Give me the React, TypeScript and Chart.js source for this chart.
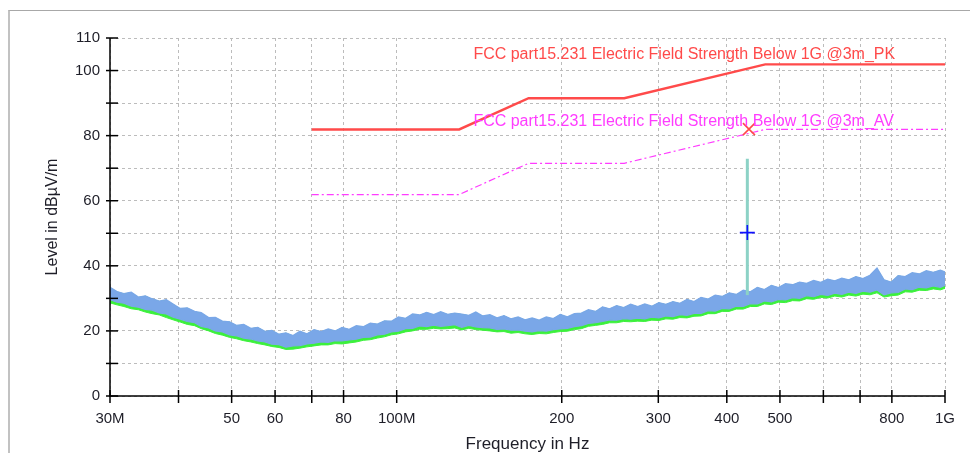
import { useEffect, useRef } from "react";
import { Chart, registerables } from "chart.js";

Chart.register(...registerables);

const W = 970;
const H = 455;
const FONT = "'Liberation Sans', Arial, Helvetica, sans-serif";
const TEXT_COLOR = "#1e1e28";
const GRID_COLOR = "#bcbcbc";
const PK_COLOR = "#ff4a4a";
const AV_COLOR = "#ff3cff";
const BLUE = "#7aa7e8";
const GREEN = "#3cf03c";
const TEAL = "#8cd2c6";

// Axes
const X_TICKS = [30, 40, 50, 60, 70, 80, 100, 200, 300, 400, 500, 600, 700, 800, 1000];
const X_TICK_LABELS = ["30M", "", "50", "60", "", "80", "100M", "200", "300", "400", "500", "", "", "800", "1G"];
const Y_TICKS = [0, 10, 20, 30, 40, 50, 60, 70, 80, 90, 100, 110];
const Y_TICK_LABELS = ["0", "", "20", "", "40", "", "60", "", "80", "", "100", "110"];

// Limit lines (MHz, dBµV/m)
const LIMIT_FREQ = [70, 130, 174, 260, 470, 1000];
const PK_LIMIT = [81.9, 81.9, 91.5, 91.5, 101.9, 101.9];
const AV_LIMIT = [61.9, 61.9, 71.5, 71.5, 81.9, 81.9];
const PK_LABEL = "FCC part15.231 Electric Field Strength Below 1G @3m_PK";
const AV_LABEL = "FCC part15.231 Electric Field Strength Below 1G @3m_AV";
const LABEL_FREQ = 138;
const PK_LABEL_LEVEL = 103.4;
const AV_LABEL_LEVEL = 83.0;

// Signal and markers
const SPIKE_FREQ = [436, 436];
const SPIKE_LEVEL = [31, 72.9];
const PEAK_MARK_FREQ = [439];
const PEAK_MARK_LEVEL = [82.0];
const AVG_MARK_FREQ = [436];
const AVG_MARK_LEVEL = [50.2];

// Noise floor: [freq MHz, blue low, blue high, green low]
const NOISE: [number, number, number, number][] = [
  [30, 29.6, 33.4, 28.6], [30.9, 28.8, 32.1, 28.0], [31.8, 28.5, 31.5, 27.5], [32.8, 27.6, 31.9, 26.8],
  [33.8, 27.3, 30.4, 26.5], [34.8, 26.6, 30.8, 25.8], [35.8, 26.4, 29.9, 25.3], [36.9, 25.5, 29.2, 24.9],
  [38, 25.2, 29.6, 24.1], [39.1, 24.2, 28.3, 23.4], [40.3, 23.6, 26.9, 22.7], [41.5, 22.9, 27.1, 22.0],
  [42.8, 22.5, 26.0, 21.6], [44, 21.4, 25.6, 20.7], [45.4, 20.9, 24.1, 20.0], [46.7, 20.0, 24.2, 19.2],
  [48.1, 19.7, 23.0, 18.7], [49.6, 18.8, 22.8, 18.0], [51, 18.5, 21.7, 17.6], [52.6, 17.8, 22.0, 17.0],
  [54.2, 17.5, 20.8, 16.6], [55.8, 16.9, 21.1, 16.1], [57.5, 16.6, 19.9, 15.7], [59.2, 15.9, 20.2, 15.2],
  [61, 15.8, 19.0, 14.9], [62.8, 15.0, 19.4, 14.3], [64.7, 15.4, 18.6, 14.4], [66.6, 15.5, 19.9, 14.7],
  [68.6, 16.0, 19.1, 15.1], [70.7, 16.2, 20.4, 15.4], [72.8, 16.6, 19.8, 15.7], [75, 16.5, 20.6, 15.7],
  [77.2, 17.0, 20.0, 16.1], [79.5, 16.9, 21.1, 16.0], [81.9, 17.2, 20.5, 16.3], [84.4, 17.5, 21.6, 16.6],
  [86.9, 18.0, 21.3, 17.1], [89.5, 18.1, 22.4, 17.3], [92.2, 18.8, 22.1, 17.8], [95, 19.0, 23.1, 18.2],
  [97.8, 19.7, 23.0, 18.8], [100.7, 19.9, 24.3, 19.1], [103.8, 20.7, 23.9, 19.7], [106.9, 20.8, 25.2, 20.0],
  [110.1, 21.5, 24.9, 20.5], [113.4, 21.3, 25.7, 20.5], [116.8, 21.8, 25.0, 20.8], [120.3, 21.4, 25.9, 20.6],
  [123.9, 21.6, 25.1, 20.7], [127.6, 21.9, 25.5, 20.9], [131.4, 21.1, 25.2, 20.3], [135.4, 21.7, 24.8, 20.8],
  [139.4, 21.2, 25.8, 20.4], [143.6, 21.0, 24.6, 20.2], [147.9, 20.9, 25.0, 20.0], [152.4, 20.5, 24.0, 19.7],
  [156.9, 20.6, 24.7, 19.8], [161.6, 20.2, 23.7, 19.3], [166.5, 20.3, 24.3, 19.5], [171.5, 19.9, 23.4, 19.1],
  [176.6, 19.7, 24.0, 18.9], [181.9, 20.1, 23.3, 19.2], [187.4, 19.9, 24.3, 19.1], [193, 20.4, 23.8, 19.5],
  [198.8, 20.6, 25.1, 19.8], [204.8, 20.8, 24.3, 19.9], [210.9, 21.3, 25.3, 20.4], [217.2, 21.6, 25.5, 20.7],
  [223.7, 22.3, 26.5, 21.4], [230.4, 22.5, 26.0, 21.7], [237.4, 22.9, 27.4, 22.0], [244.5, 23.4, 26.8, 22.5],
  [251.8, 23.3, 27.8, 22.5], [259.4, 23.8, 27.2, 22.9], [267.1, 23.6, 28.2, 22.8], [275.2, 23.9, 27.5, 23.0],
  [283.4, 23.7, 28.3, 22.9], [291.9, 24.2, 27.6, 23.3], [300.7, 24.0, 28.7, 23.2], [309.7, 24.6, 28.2, 23.7],
  [319, 24.4, 29.0, 23.6], [328.5, 25.0, 28.5, 24.1], [338.4, 24.8, 29.7, 24.0], [348.5, 25.4, 29.0, 24.5],
  [359, 25.4, 30.3, 24.6], [369.8, 26.2, 29.8, 25.3], [380.9, 26.1, 31.0, 25.3], [392.3, 26.9, 30.6, 26.0],
  [404, 26.8, 31.7, 26.0], [416.2, 27.6, 31.2, 26.7], [428.6, 27.5, 32.5, 26.7], [441.5, 28.4, 32.0, 27.5],
  [454.8, 28.3, 33.4, 27.5], [468.4, 29.2, 32.7, 28.3], [482.4, 28.9, 34.0, 28.1], [496.9, 29.7, 33.3, 28.8],
  [511.8, 29.5, 34.5, 28.7], [527.2, 30.2, 34.2, 29.3], [543, 30.0, 35.0, 29.2], [559.3, 30.8, 34.6, 29.9],
  [576, 30.5, 35.5, 29.7], [593.3, 31.2, 34.9, 30.3], [611.1, 30.9, 35.9, 30.1], [629.5, 31.6, 35.4, 30.7],
  [648.3, 31.2, 36.2, 30.4], [667.8, 31.9, 35.7, 31.0], [687.8, 31.5, 36.7, 30.7], [708.5, 32.2, 36.1, 31.3],
  [729.7, 31.9, 37.1, 31.1], [751.6, 32.6, 39.3, 31.7], [774.2, 31.1, 35.7, 30.4], [797.4, 31.7, 35.0, 30.8],
  [821.3, 31.8, 37.0, 31.0], [846, 32.9, 36.7, 32.0], [871.3, 32.7, 37.9, 31.9], [897.5, 33.4, 37.5, 32.5],
  [924.4, 33.2, 38.5, 32.4], [952.1, 33.8, 38.0, 32.9], [980.7, 33.4, 38.7, 32.6], [1000, 34.0, 38.1, 33.1],
];

const pts = (xs: number[], ys: number[]) => xs.map((x, i) => ({ x, y: ys[i] }));

const overlayPlugin = {
  id: "emcOverlay",
  afterDraw(chart: any) {
    const { ctx, chartArea, scales } = chart;
    const xs = scales.x;
    const ys = scales.y;
    ctx.save();
    ctx.strokeStyle = "#000";
    ctx.lineWidth = 1.5;
    ctx.beginPath();
    ctx.moveTo(chartArea.left, chartArea.top);
    ctx.lineTo(chartArea.left, chartArea.bottom);
    ctx.lineTo(chartArea.right, chartArea.bottom);
    ctx.stroke();
    Y_TICKS.forEach((v) => {
      const p = ys.getPixelForValue(v);
      ctx.beginPath();
      ctx.moveTo(chartArea.left - 4, p);
      ctx.lineTo(chartArea.left + 8, p);
      ctx.stroke();
    });
    X_TICKS.forEach((v) => {
      const p = xs.getPixelForValue(v);
      ctx.beginPath();
      ctx.moveTo(p, chartArea.bottom - 6);
      ctx.lineTo(p, chartArea.bottom + 7);
      ctx.stroke();
    });
    ctx.font = `16px ${FONT}`;
    ctx.textAlign = "left";
    ctx.textBaseline = "alphabetic";
    ctx.fillStyle = PK_COLOR;
    ctx.fillText(PK_LABEL, xs.getPixelForValue(LABEL_FREQ), ys.getPixelForValue(PK_LABEL_LEVEL));
    ctx.fillStyle = AV_COLOR;
    ctx.fillText(AV_LABEL, xs.getPixelForValue(LABEL_FREQ), ys.getPixelForValue(AV_LABEL_LEVEL));
    ctx.restore();
  },
};

export default function App() {
  const ref = useRef<HTMLCanvasElement | null>(null);

  useEffect(() => {
    if (!ref.current) return;
    const freqs = NOISE.map((r) => r[0]);
    const blueLo = NOISE.map((r) => r[1]);
    const blueHi = NOISE.map((r) => r[2]);
    const greenLo = NOISE.map((r) => r[3]);
    const chart = new Chart(ref.current, {
      type: "line",
      data: {
        datasets: [
          { data: pts(LIMIT_FREQ, PK_LIMIT), borderColor: PK_COLOR, borderWidth: 2.4, pointRadius: 0, fill: false, order: 1 },
          { data: pts(LIMIT_FREQ, AV_LIMIT), borderColor: AV_COLOR, borderWidth: 1.2, borderDash: [7, 3, 2, 3], pointRadius: 0, fill: false, order: 1 },
          { data: pts(PEAK_MARK_FREQ, PEAK_MARK_LEVEL), showLine: false, pointStyle: "crossRot", pointRadius: 8.5, borderColor: PK_COLOR, pointBorderWidth: 1.6, order: 0 },
          { data: pts(AVG_MARK_FREQ, AVG_MARK_LEVEL), showLine: false, pointStyle: "cross", pointRadius: 7.5, borderColor: "#1010ff", pointBorderWidth: 1.6, order: 0 },
          { data: pts(SPIKE_FREQ, SPIKE_LEVEL), borderColor: TEAL, borderWidth: 3, pointRadius: 0, fill: false, order: 2 },
          { data: pts(freqs, blueLo), borderColor: BLUE, borderWidth: 1.2, pointRadius: 0, fill: false, order: 5 },
          { data: pts(freqs, blueHi), borderColor: BLUE, backgroundColor: BLUE, borderWidth: 1.2, pointRadius: 0, fill: "-1", order: 5 },
          { data: pts(freqs, greenLo), borderColor: GREEN, borderWidth: 1, pointRadius: 0, fill: false, order: 6 },
          { data: pts(freqs, blueHi), borderColor: "rgba(0,0,0,0)", backgroundColor: GREEN, borderWidth: 0, pointRadius: 0, fill: "-1", order: 6 },
        ],
      },
      options: {
        animation: false,
        responsive: false,
        maintainAspectRatio: false,
        events: [],
        elements: { line: { tension: 0 } },
        layout: { padding: { top: 38, right: 25, left: 0, bottom: 0 } },
        plugins: { legend: { display: false }, tooltip: { enabled: false } },
        scales: {
          x: {
            type: "logarithmic",
            min: 30,
            max: 1000,
            afterFit: (s: any) => { s.height = H - 396; },
            afterBuildTicks: (s: any) => { s.ticks = X_TICKS.map((v) => ({ value: v })); },
            grid: { color: GRID_COLOR, lineWidth: 1, drawTicks: false },
            border: { display: false, dash: [3, 3] },
            ticks: {
              autoSkip: false,
              maxRotation: 0,
              padding: 14,
              color: TEXT_COLOR,
              font: { family: FONT, size: 15 },
              callback: (_v: any, i: number) => X_TICK_LABELS[i],
            },
            title: { display: true, text: "Frequency in Hz", color: TEXT_COLOR, font: { family: FONT, size: 17 }, padding: { top: 0, bottom: 0 } },
          },
          y: {
            min: 0,
            max: 110,
            afterFit: (s: any) => { s.width = 110; },
            afterBuildTicks: (s: any) => { s.ticks = Y_TICKS.map((v) => ({ value: v })); },
            grid: { color: GRID_COLOR, lineWidth: 1, drawTicks: false },
            border: { display: false, dash: [3, 3] },
            ticks: {
              padding: 10,
              color: TEXT_COLOR,
              font: { family: FONT, size: 15 },
              callback: (_v: any, i: number) => Y_TICK_LABELS[i],
            },
            title: { display: true, text: "Level in dBµV/m", color: TEXT_COLOR, font: { family: FONT, size: 16 }, padding: { top: 43, bottom: 0 } },
          },
        },
      },
      plugins: [overlayPlugin],
    } as any);
    return () => chart.destroy();
  }, []);

  return (
    <div style={{ position: "fixed", left: 0, top: 0, width: 970, height: 453, overflow: "hidden", background: "#fff" }}>
      <div style={{ position: "absolute", left: 8, top: 10, right: -20, bottom: -20, borderTop: "1px solid #a8a8a8", borderLeft: "2px solid #c2c2c2" }} />
      <canvas ref={ref} width={W} height={H} style={{ position: "absolute", left: 0, top: 0, width: W, height: H }} />
    </div>
  );
}
